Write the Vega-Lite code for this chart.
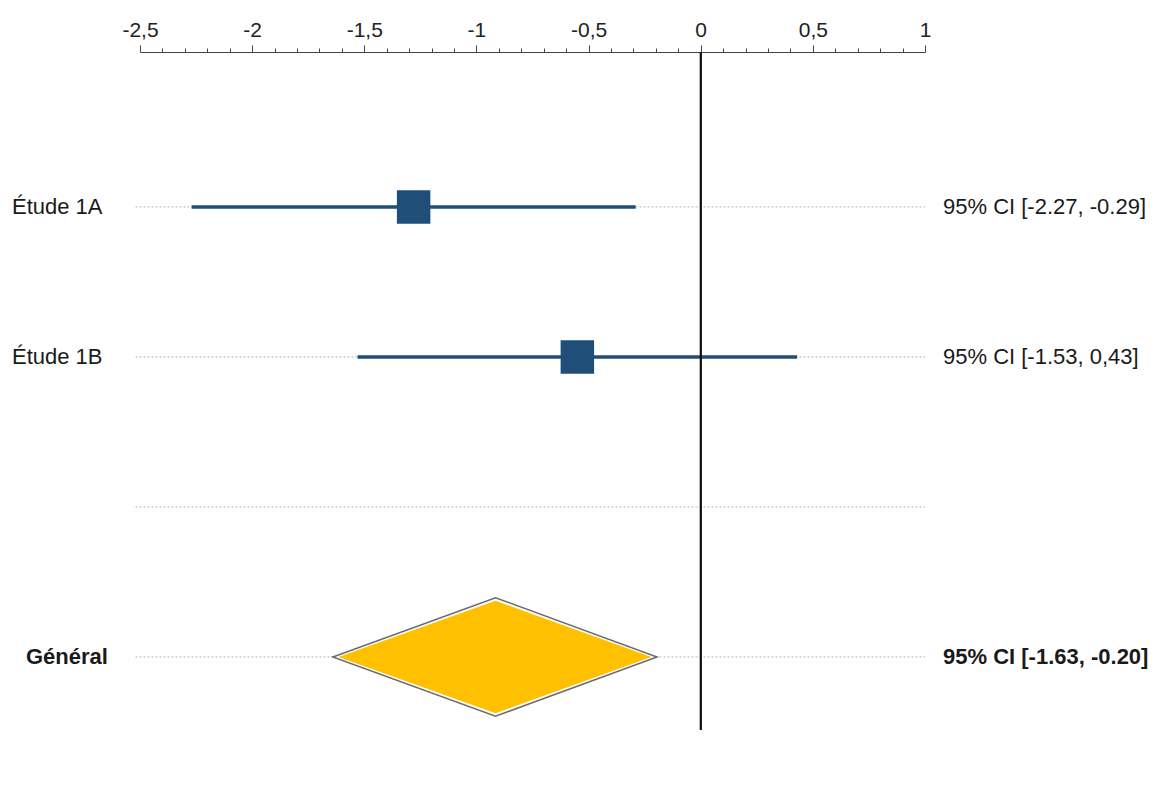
{
  "$schema": "https://vega.github.io/schema/vega-lite/v6.json",
  "width": 785,
  "height": 678,
  "autosize": {"type": "none"},
  "padding": {"left": 140, "top": 52, "right": 247, "bottom": 75},
  "background": "white",
  "config": {
    "view": {"stroke": null},
    "font": "Liberation Sans"
  },
  "datasets": {
    "rows": [{"row": 1}, {"row": 2}, {"row": 3}, {"row": 4}],
    "studies": [
      {"study": "Étude 1A", "row": 1, "est": -1.28, "lo": -2.27, "hi": -0.29, "ci": "95% CI [-2.27, -0.29]"},
      {"study": "Étude 1B", "row": 2, "est": -0.55, "lo": -1.53, "hi": 0.43, "ci": "95% CI [-1.53, 0,43]"}
    ],
    "overall": [
      {"study": "Général", "row": 4, "est": -0.915, "lo": -1.63, "hi": -0.20, "ci": "95% CI [-1.63, -0.20]"}
    ],
    "diamondOuter": [
      {"x": -1.64, "top": 4, "bottom": 4},
      {"x": -0.915, "top": 3.605, "bottom": 4.395},
      {"x": -0.195, "top": 4, "bottom": 4}
    ],
    "diamondInner": [
      {"x": -1.615, "top": 4, "bottom": 4},
      {"x": -0.915, "top": 3.625, "bottom": 4.375},
      {"x": -0.22, "top": 4, "bottom": 4}
    ]
  },
  "layer": [
    {
      "data": {"name": "rows"},
      "mark": {"type": "rule", "color": "#b5b5b5", "strokeWidth": 1, "strokeDash": [2, 2]},
      "encoding": {
        "x": {"datum": -2.52, "type": "quantitative", "scale": {"domain": [-2.5, 1], "nice": false, "zero": false},
          "axis": {"orient": "top", "title": null, "grid": false, "values": [-2.5, -2.4, -2.3, -2.2, -2.1, -2, -1.9, -1.8, -1.7, -1.6, -1.5, -1.4, -1.3, -1.2, -1.1, -1, -0.9, -0.8, -0.7, -0.6, -0.5, -0.4, -0.3, -0.2, -0.1, 0, 0.1, 0.2, 0.3, 0.4, 0.5, 0.6, 0.7, 0.8, 0.9, 1], "labelExpr": "abs(datum.value*2 - round(datum.value*2)) < 0.001 ? replace(toString(datum.value), '.', ',') : ''", "labelFont": "Liberation Sans", "labelFontSize": 21, "labelColor": "#222222", "labelPadding": 5, "labelOverlap": false, "labelFlush": false, "labelBound": false, "domainColor": "#444444", "domainWidth": 1, "tickColor": "#444444", "tickWidth": 1, "tickSize": {"condition": {"test": "abs(datum.value*2 - round(datum.value*2)) < 0.001", "value": 7}, "value": 4}}},
        "x2": {"datum": 1},
        "y": {"field": "row", "type": "quantitative", "scale": {"domain": [-0.033, 4.487], "reverse": true, "nice": false, "zero": false}, "axis": null}
      }
    },
    {
      "data": {"name": "studies"},
      "mark": {"type": "rule", "color": "#1F4E79", "strokeWidth": 3.5},
      "encoding": {
        "x": {"field": "lo", "type": "quantitative",
          "axis": {"orient": "top", "title": null, "grid": false, "values": [-2.5, -2.4, -2.3, -2.2, -2.1, -2, -1.9, -1.8, -1.7, -1.6, -1.5, -1.4, -1.3, -1.2, -1.1, -1, -0.9, -0.8, -0.7, -0.6, -0.5, -0.4, -0.3, -0.2, -0.1, 0, 0.1, 0.2, 0.3, 0.4, 0.5, 0.6, 0.7, 0.8, 0.9, 1], "labelExpr": "abs(datum.value*2 - round(datum.value*2)) < 0.001 ? replace(toString(datum.value), '.', ',') : ''", "labelFont": "Liberation Sans", "labelFontSize": 21, "labelColor": "#222222", "labelPadding": 5, "labelOverlap": false, "labelFlush": false, "labelBound": false, "domainColor": "#444444", "domainWidth": 1, "tickColor": "#444444", "tickWidth": 1, "tickSize": {"condition": {"test": "abs(datum.value*2 - round(datum.value*2)) < 0.001", "value": 7}, "value": 4}}},
        "x2": {"field": "hi"},
        "y": {"field": "row", "type": "quantitative", "axis": null}
      }
    },
    {
      "data": {"name": "studies"},
      "mark": {"type": "point", "shape": "square", "filled": true, "opacity": 1, "color": "#1F4E79", "size": 1120},
      "encoding": {
        "x": {"field": "est", "type": "quantitative",
          "axis": {"orient": "top", "title": null, "grid": false, "values": [-2.5, -2.4, -2.3, -2.2, -2.1, -2, -1.9, -1.8, -1.7, -1.6, -1.5, -1.4, -1.3, -1.2, -1.1, -1, -0.9, -0.8, -0.7, -0.6, -0.5, -0.4, -0.3, -0.2, -0.1, 0, 0.1, 0.2, 0.3, 0.4, 0.5, 0.6, 0.7, 0.8, 0.9, 1], "labelExpr": "abs(datum.value*2 - round(datum.value*2)) < 0.001 ? replace(toString(datum.value), '.', ',') : ''", "labelFont": "Liberation Sans", "labelFontSize": 21, "labelColor": "#222222", "labelPadding": 5, "labelOverlap": false, "labelFlush": false, "labelBound": false, "domainColor": "#444444", "domainWidth": 1, "tickColor": "#444444", "tickWidth": 1, "tickSize": {"condition": {"test": "abs(datum.value*2 - round(datum.value*2)) < 0.001", "value": 7}, "value": 4}}},
        "y": {"field": "row", "type": "quantitative", "axis": null}
      }
    },
    {
      "data": {"name": "rows"},
      "mark": {"type": "rule", "color": "#111111", "strokeWidth": 1.6},
      "encoding": {
        "x": {"datum": 0, "type": "quantitative",
          "axis": {"orient": "top", "title": null, "grid": false, "values": [-2.5, -2.4, -2.3, -2.2, -2.1, -2, -1.9, -1.8, -1.7, -1.6, -1.5, -1.4, -1.3, -1.2, -1.1, -1, -0.9, -0.8, -0.7, -0.6, -0.5, -0.4, -0.3, -0.2, -0.1, 0, 0.1, 0.2, 0.3, 0.4, 0.5, 0.6, 0.7, 0.8, 0.9, 1], "labelExpr": "abs(datum.value*2 - round(datum.value*2)) < 0.001 ? replace(toString(datum.value), '.', ',') : ''", "labelFont": "Liberation Sans", "labelFontSize": 21, "labelColor": "#222222", "labelPadding": 5, "labelOverlap": false, "labelFlush": false, "labelBound": false, "domainColor": "#444444", "domainWidth": 1, "tickColor": "#444444", "tickWidth": 1, "tickSize": {"condition": {"test": "abs(datum.value*2 - round(datum.value*2)) < 0.001", "value": 7}, "value": 4}}}
      }
    },
    {
      "data": {"name": "diamondOuter"},
      "mark": {"type": "area", "orient": "vertical", "fill": "#ffffff", "stroke": "#6b6b6b", "strokeWidth": 1.5},
      "encoding": {
        "x": {"field": "x", "type": "quantitative",
          "axis": {"orient": "top", "title": null, "grid": false, "values": [-2.5, -2.4, -2.3, -2.2, -2.1, -2, -1.9, -1.8, -1.7, -1.6, -1.5, -1.4, -1.3, -1.2, -1.1, -1, -0.9, -0.8, -0.7, -0.6, -0.5, -0.4, -0.3, -0.2, -0.1, 0, 0.1, 0.2, 0.3, 0.4, 0.5, 0.6, 0.7, 0.8, 0.9, 1], "labelExpr": "abs(datum.value*2 - round(datum.value*2)) < 0.001 ? replace(toString(datum.value), '.', ',') : ''", "labelFont": "Liberation Sans", "labelFontSize": 21, "labelColor": "#222222", "labelPadding": 5, "labelOverlap": false, "labelFlush": false, "labelBound": false, "domainColor": "#444444", "domainWidth": 1, "tickColor": "#444444", "tickWidth": 1, "tickSize": {"condition": {"test": "abs(datum.value*2 - round(datum.value*2)) < 0.001", "value": 7}, "value": 4}}},
        "y": {"field": "top", "type": "quantitative", "axis": null},
        "y2": {"field": "bottom"}
      }
    },
    {
      "data": {"name": "diamondInner"},
      "mark": {"type": "area", "orient": "vertical", "fill": "#FFC000", "stroke": null},
      "encoding": {
        "x": {"field": "x", "type": "quantitative",
          "axis": {"orient": "top", "title": null, "grid": false, "values": [-2.5, -2.4, -2.3, -2.2, -2.1, -2, -1.9, -1.8, -1.7, -1.6, -1.5, -1.4, -1.3, -1.2, -1.1, -1, -0.9, -0.8, -0.7, -0.6, -0.5, -0.4, -0.3, -0.2, -0.1, 0, 0.1, 0.2, 0.3, 0.4, 0.5, 0.6, 0.7, 0.8, 0.9, 1], "labelExpr": "abs(datum.value*2 - round(datum.value*2)) < 0.001 ? replace(toString(datum.value), '.', ',') : ''", "labelFont": "Liberation Sans", "labelFontSize": 21, "labelColor": "#222222", "labelPadding": 5, "labelOverlap": false, "labelFlush": false, "labelBound": false, "domainColor": "#444444", "domainWidth": 1, "tickColor": "#444444", "tickWidth": 1, "tickSize": {"condition": {"test": "abs(datum.value*2 - round(datum.value*2)) < 0.001", "value": 7}, "value": 4}}},
        "y": {"field": "top", "type": "quantitative", "axis": null},
        "y2": {"field": "bottom"}
      }
    },
    {
      "data": {"name": "studies"},
      "mark": {"type": "text", "align": "left", "baseline": "middle", "fontSize": 22, "color": "#1a1a1a", "dx": -128},
      "encoding": {
        "x": {"datum": -2.5, "type": "quantitative",
          "axis": {"orient": "top", "title": null, "grid": false, "values": [-2.5, -2.4, -2.3, -2.2, -2.1, -2, -1.9, -1.8, -1.7, -1.6, -1.5, -1.4, -1.3, -1.2, -1.1, -1, -0.9, -0.8, -0.7, -0.6, -0.5, -0.4, -0.3, -0.2, -0.1, 0, 0.1, 0.2, 0.3, 0.4, 0.5, 0.6, 0.7, 0.8, 0.9, 1], "labelExpr": "abs(datum.value*2 - round(datum.value*2)) < 0.001 ? replace(toString(datum.value), '.', ',') : ''", "labelFont": "Liberation Sans", "labelFontSize": 21, "labelColor": "#222222", "labelPadding": 5, "labelOverlap": false, "labelFlush": false, "labelBound": false, "domainColor": "#444444", "domainWidth": 1, "tickColor": "#444444", "tickWidth": 1, "tickSize": {"condition": {"test": "abs(datum.value*2 - round(datum.value*2)) < 0.001", "value": 7}, "value": 4}}},
        "y": {"field": "row", "type": "quantitative", "axis": null},
        "text": {"field": "study"}
      }
    },
    {
      "data": {"name": "overall"},
      "mark": {"type": "text", "align": "left", "baseline": "middle", "fontSize": 22, "fontWeight": "bold", "color": "#1a1a1a", "dx": -114},
      "encoding": {
        "x": {"datum": -2.5, "type": "quantitative",
          "axis": {"orient": "top", "title": null, "grid": false, "values": [-2.5, -2.4, -2.3, -2.2, -2.1, -2, -1.9, -1.8, -1.7, -1.6, -1.5, -1.4, -1.3, -1.2, -1.1, -1, -0.9, -0.8, -0.7, -0.6, -0.5, -0.4, -0.3, -0.2, -0.1, 0, 0.1, 0.2, 0.3, 0.4, 0.5, 0.6, 0.7, 0.8, 0.9, 1], "labelExpr": "abs(datum.value*2 - round(datum.value*2)) < 0.001 ? replace(toString(datum.value), '.', ',') : ''", "labelFont": "Liberation Sans", "labelFontSize": 21, "labelColor": "#222222", "labelPadding": 5, "labelOverlap": false, "labelFlush": false, "labelBound": false, "domainColor": "#444444", "domainWidth": 1, "tickColor": "#444444", "tickWidth": 1, "tickSize": {"condition": {"test": "abs(datum.value*2 - round(datum.value*2)) < 0.001", "value": 7}, "value": 4}}},
        "y": {"field": "row", "type": "quantitative", "axis": null},
        "text": {"field": "study"}
      }
    },
    {
      "data": {"name": "studies"},
      "mark": {"type": "text", "align": "left", "baseline": "middle", "fontSize": 22, "color": "#1a1a1a", "dx": 18},
      "encoding": {
        "x": {"datum": 1, "type": "quantitative",
          "axis": {"orient": "top", "title": null, "grid": false, "values": [-2.5, -2.4, -2.3, -2.2, -2.1, -2, -1.9, -1.8, -1.7, -1.6, -1.5, -1.4, -1.3, -1.2, -1.1, -1, -0.9, -0.8, -0.7, -0.6, -0.5, -0.4, -0.3, -0.2, -0.1, 0, 0.1, 0.2, 0.3, 0.4, 0.5, 0.6, 0.7, 0.8, 0.9, 1], "labelExpr": "abs(datum.value*2 - round(datum.value*2)) < 0.001 ? replace(toString(datum.value), '.', ',') : ''", "labelFont": "Liberation Sans", "labelFontSize": 21, "labelColor": "#222222", "labelPadding": 5, "labelOverlap": false, "labelFlush": false, "labelBound": false, "domainColor": "#444444", "domainWidth": 1, "tickColor": "#444444", "tickWidth": 1, "tickSize": {"condition": {"test": "abs(datum.value*2 - round(datum.value*2)) < 0.001", "value": 7}, "value": 4}}},
        "y": {"field": "row", "type": "quantitative", "axis": null},
        "text": {"field": "ci"}
      }
    },
    {
      "data": {"name": "overall"},
      "mark": {"type": "text", "align": "left", "baseline": "middle", "fontSize": 22, "fontWeight": "bold", "color": "#1a1a1a", "dx": 18},
      "encoding": {
        "x": {"datum": 1, "type": "quantitative",
          "axis": {"orient": "top", "title": null, "grid": false, "values": [-2.5, -2.4, -2.3, -2.2, -2.1, -2, -1.9, -1.8, -1.7, -1.6, -1.5, -1.4, -1.3, -1.2, -1.1, -1, -0.9, -0.8, -0.7, -0.6, -0.5, -0.4, -0.3, -0.2, -0.1, 0, 0.1, 0.2, 0.3, 0.4, 0.5, 0.6, 0.7, 0.8, 0.9, 1], "labelExpr": "abs(datum.value*2 - round(datum.value*2)) < 0.001 ? replace(toString(datum.value), '.', ',') : ''", "labelFont": "Liberation Sans", "labelFontSize": 21, "labelColor": "#222222", "labelPadding": 5, "labelOverlap": false, "labelFlush": false, "labelBound": false, "domainColor": "#444444", "domainWidth": 1, "tickColor": "#444444", "tickWidth": 1, "tickSize": {"condition": {"test": "abs(datum.value*2 - round(datum.value*2)) < 0.001", "value": 7}, "value": 4}}},
        "y": {"field": "row", "type": "quantitative", "axis": null},
        "text": {"field": "ci"}
      }
    }
  ]
}
